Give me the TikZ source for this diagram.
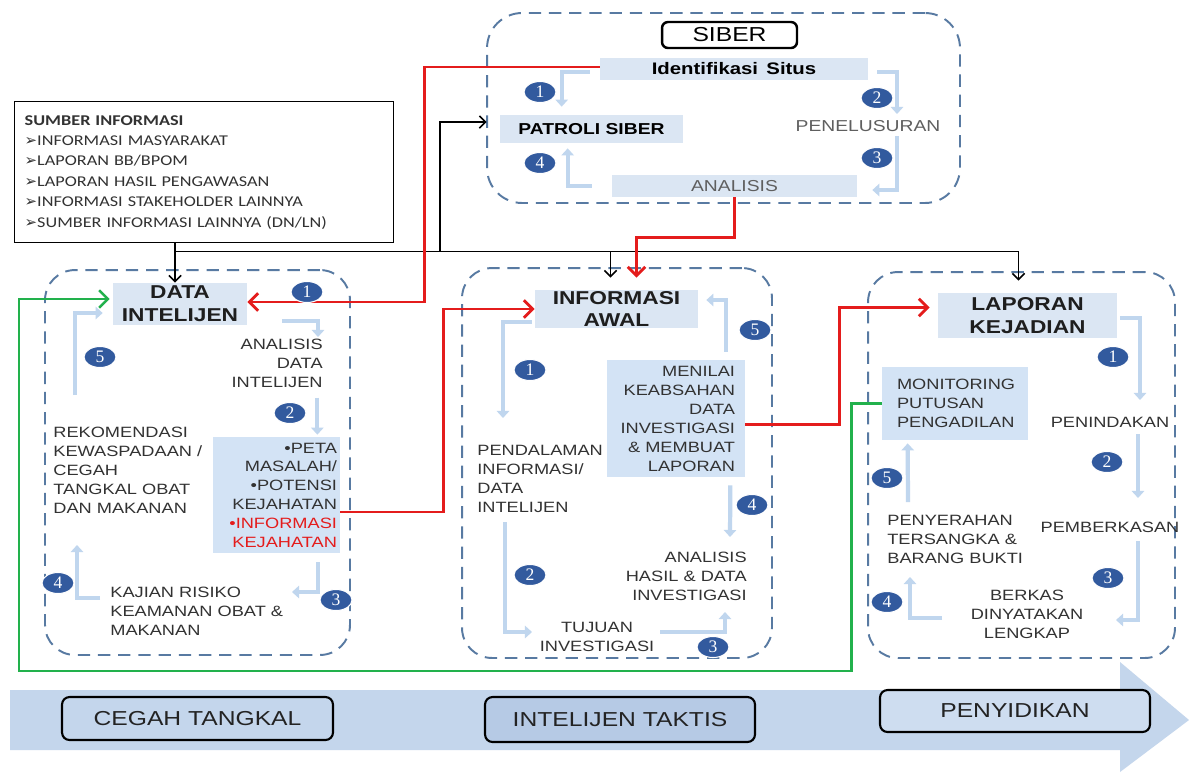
\documentclass[tikz,border=0pt]{standalone}
\usepackage{fontspec}
\setmainfont{Liberation Sans}[FakeStretch=1.22]
\newfontfamily\srcfont{Carlito}[FakeStretch=1.22]
\newfontfamily\symfont{DejaVu Sans}
\newfontfamily\numfont{Liberation Serif}
\usetikzlibrary{arrows.meta,calc,shapes.geometric,positioning}

\definecolor{dashblue}{RGB}{88,122,162}
\definecolor{barfill}{RGB}{219,230,243}
\definecolor{boxfill}{RGB}{211,227,245}
\definecolor{flowblue}{RGB}{192,214,238}
\definecolor{badgeblue}{RGB}{50,90,158}
\definecolor{ink}{RGB}{50,50,50}
\definecolor{softink}{RGB}{95,95,95}
\definecolor{alertred}{RGB}{228,28,28}
\definecolor{backgreen}{RGB}{34,177,76}
\definecolor{bandblue}{RGB}{196,214,236}
\definecolor{taktisfill}{RGB}{182,202,229}
\definecolor{sidikfill}{RGB}{206,221,240}

\newcommand\pointer{{\symfont\fontsize{8.5}{8.5}\selectfont ➢}}

\begin{document}
\begin{tikzpicture}[x=0.02cm, y=-0.02cm,
  phase/.style={draw=dashblue, line width=1.1pt, dash pattern=on 7pt off 4.5pt, rounded corners=0.6cm},
  bar/.style={fill=barfill, inner sep=0pt, align=center, text=black},
  headbar/.style={bar, font=\bfseries\fontsize{10.6}{13}\selectfont, text={rgb,255:red,30;green,30;blue,30}},
  txt/.style={inner sep=0pt, text=ink, font=\fontsize{8.5}{10.8}\selectfont},
  badge/.style={ellipse, fill=badgeblue, draw=white, line width=0.6pt, minimum width=0.64cm, minimum height=0.42cm, inner sep=0pt, text=white, font=\numfont\fontsize{10}{10}\selectfont},
  flow/.style={draw=flowblue, line width=2.4pt, -{Triangle[length=4pt,width=7pt]}},
  feed/.style={draw=black, line width=0.9pt, -{Straight Barb[length=3.5pt,width=7pt]}},
  redlink/.style={draw=alertred, line width=1.6pt, -{Straight Barb[length=5pt,width=10pt]}},
  greenback/.style={draw=backgreen, line width=1.4pt, -{Straight Barb[length=5pt,width=10pt]}},
  stage/.style={draw=black, line width=1.2pt, rounded corners=0.15cm, inner sep=0pt, font=\fontsize{11.5}{12}\selectfont, text={rgb,255:red,35;green,35;blue,35}}]

\useasboundingbox (0,0) rectangle (1189,772);
\fill[white] (0,0) rectangle (1189,772);

% Bottom band
\fill[bandblue] (10,690) -- (1120,690) -- (1120,662) -- (1189,720) -- (1120,772) -- (1120,750) -- (10,750) -- cycle;
\node[stage, fill=bandblue, minimum width=5.42cm, minimum height=0.86cm] (cegah) at (197.5,718.5) {CEGAH TANGKAL};
\node[stage, fill=taktisfill, minimum width=5.4cm, minimum height=0.9cm] (taktis) at (620,719.5) {INTELIJEN TAKTIS};
\node[stage, fill=sidikfill, minimum width=5.4cm, minimum height=0.84cm] (sidik) at (1015,711) {PENYIDIKAN};

% Phase frames
\node[phase, rounded corners=0.7cm, minimum width=9.46cm, minimum height=3.8cm] (sbox) at (723.5,108) {};
\node[phase, minimum width=6.1cm, minimum height=7.7cm] (lbox) at (197.5,462.5) {};
\node[phase, minimum width=6.2cm, minimum height=7.8cm] (mbox) at (617,463) {};
\node[phase, minimum width=6.14cm, minimum height=7.72cm] (rbox) at (1021.5,465) {};

% Sources
\node[draw=black, line width=0.8pt, anchor=north west, minimum width=7.58cm, minimum height=2.82cm,
  text width=7.18cm, inner xsep=0.2cm, align=left, text=ink,
  font=\srcfont\fontsize{8.5}{11.6}\selectfont] (src) at (14,101)
  {\textbf{SUMBER INFORMASI}\\
   \pointer INFORMASI MASYARAKAT\\
   \pointer LAPORAN BB/BPOM\\
   \pointer LAPORAN HASIL PENGAWASAN\\
   \pointer INFORMASI STAKEHOLDER LAINNYA\\
   \pointer SUMBER INFORMASI LAINNYA (DN/LN)};

% Siber
\node[draw=black, line width=1.4pt, rounded corners=0.12cm, fill=white, minimum width=2.7cm, minimum height=0.52cm, inner sep=0pt, font=\fontsize{11.5}{11.5}\selectfont] (stitle) at (729.5,35) {SIBER};
\node[bar, minimum width=5.36cm, minimum height=0.44cm, font=\bfseries\fontsize{9.5}{10}\selectfont] (idf) at (734,69) {Identifikasi\hspace{0.5em}Situs};
\node[bar, minimum width=3.66cm, minimum height=0.56cm, font=\bfseries\fontsize{9}{10}\selectfont] (pat) at (591.5,129) {PATROLI SIBER};
\node[txt, text=softink, font=\fontsize{9}{10}\selectfont] (pnl) at (868,126) {PENELUSURAN};
\node[bar, minimum width=4.9cm, minimum height=0.44cm, text=softink, font=\fontsize{9}{10}\selectfont] (ans) at (734.5,186) {ANALISIS};

% Cegah tangkal
\node[headbar, minimum width=2.68cm, minimum height=0.84cm] (di) at (180,304) {DATA\\INTELIJEN};
\node[txt, anchor=north east, align=right] (ana) at (323,339) {ANALISIS\\DATA\\INTELIJEN};
\node[bar, fill=boxfill, minimum width=2.54cm, minimum height=2.32cm, text width=2.42cm, inner xsep=0.06cm,
  align=right, text=ink, font=\fontsize{8.5}{10.7}\selectfont] (peta) at (276.5,495)
  {•PETA\\MASALAH/\\•POTENSI\\KEJAHATAN\\{\color{alertred}•INFORMASI}\\{\color{alertred}KEJAHATAN}};
\node[txt, anchor=north west, align=left] (kaj) at (110,587) {KAJIAN RISIKO\\KEAMANAN OBAT \&\\MAKANAN};
\node[txt, anchor=north west, align=left] (rek) at (53,427) {REKOMENDASI\\KEWASPADAAN /\\CEGAH\\TANGKAL OBAT\\DAN MAKANAN};

% Intelijen taktis
\node[headbar, minimum width=3.26cm, minimum height=0.76cm] (ia) at (616.5,309) {INFORMASI\\AWAL};
\node[bar, fill=boxfill, minimum width=2.76cm, minimum height=2.34cm, text width=2.36cm, inner xsep=0.2cm,
  align=right, text=ink, font=\fontsize{8.5}{10.8}\selectfont] (menilai) at (676,418.5)
  {MENILAI\\KEABSAHAN\\DATA\\INVESTIGASI\\\& MEMBUAT\\LAPORAN};
\node[txt, anchor=north west, align=left] (pend) at (477,445) {PENDALAMAN\\INFORMASI/\\DATA\\INTELIJEN};
\node[txt, align=center] (tuj) at (597,637) {TUJUAN\\INVESTIGASI};
\node[txt, anchor=north east, align=right] (ahd) at (747,552) {ANALISIS\\HASIL \& DATA\\INVESTIGASI};

% Penyidikan
\node[headbar, minimum width=3.58cm, minimum height=0.9cm] (lk) at (1027.5,315.5) {LAPORAN\\KEJADIAN};
\node[bar, fill=boxfill, minimum width=2.92cm, minimum height=1.46cm, text width=2.32cm, inner xsep=0.3cm,
  align=left, text=ink, font=\fontsize{8.5}{10.8}\selectfont] (mon) at (955,403.5) {MONITORING\\PUTUSAN\\PENGADILAN};
\node[txt] (pen) at (1110,422) {PENINDAKAN};
\node[txt] (pem) at (1110,527) {PEMBERKASAN};
\node[txt, align=center] (ber) at (1027,614) {BERKAS\\DINYATAKAN\\LENGKAP};
\node[txt, anchor=north west, align=left] (peny) at (887,515) {PENYERAHAN\\TERSANGKA \&\\BARANG BUKTI};

% Cycle arrows, siber
\draw[flow] ($(idf.west)+(-10,3)$) -| ($(pat.north west)+(62,-8)$);
\draw[flow] ($(idf.east)+(9,3)$) -| ($(pnl.center)+(29,-12)$);
\draw[flow] ($(pnl.center)+(29,10)$) |- ($(ans.east)+(15,4)$);
\draw[flow] ($(ans.west)+(-20,0)$) -| ($(pat.south west)+(68,5)$);

% Cycle arrows, cegah tangkal
\draw[flow] ($(di.south east)+(35,-4)$) -| ($(ana.north east)+(-5,-2)$);
\draw[flow] ($(peta.north east)+(-23,-39)$) -- ($(peta.north east)+(-23,-2)$);
\draw[flow] ($(peta.south east)+(-22,9)$) |- ($(kaj.north west)+(182,5)$);
\draw[flow] ($(kaj.north west)+(-10,11)$) -| ($(rek.north west)+(24,118)$);
\draw[flow] ($(rek.north west)+(22,-32)$) |- ($(di.west)+(-10,9)$);

% Cycle arrows, intelijen taktis
\draw[flow] ($(ia.south west)+(-3,-6)$) -| ($(pend.north west)+(26,-27)$);
\draw[flow] ($(pend.north west)+(28,77)$) |- ($(tuj.center)+(-65,-5)$);
\draw[flow] ($(tuj.center)+(63,-5)$) -| ($(ahd.north east)+(-22,60)$);
\draw[flow] ($(menilai.south east)+(-15,8)$) -- ($(ahd.north east)+(-17,-15)$);
\draw[flow] ($(menilai.north east)+(-19,-8)$) |- ($(ia.east)+(8,-9)$);

% Cycle arrows, penyidikan
\draw[flow] ($(lk.east)+(3,2.5)$) -| ($(pen.center)+(30,-22)$);
\draw[flow] ($(pen.center)+(28,12)$) -- ($(pem.center)+(28,-29)$);
\draw[flow] ($(pem.center)+(28,14)$) |- ($(ber.center)+(89,6)$);
\draw[flow] ($(ber.center)+(-85,4)$) -| ($(peny.north west)+(23,62)$);
\draw[flow] ($(peny.north west)+(21,-13)$) -- ($(mon.south west)+(26,3)$);

% Source feeds
\coordinate (bus) at ($(src.south west)+(161,8)$);
\draw[feed] (src.south -| bus) -- (bus |- di.north);
\draw[feed] (bus) -| ($(ia.north)+(-6,-12)$);
\draw[feed] (bus) -| ($(lk.north)+(-9,-12)$);
\draw[feed] ($(bus)+(265,0)$) |- ($(pat.west)+(-13,-7)$);

% Hand-over links
\draw[redlink] ($(idf.west)+(0,-2)$) -- ++(-175,0) |- ($(di.east)+(0,-2)$);
\draw[redlink] (ans.south) -- ++(0,40) -| ($(ia.north)+(20,-12)$);
\draw[redlink] ($(peta.east)+(0,17)$) -- ++(103,0) |- (ia.west);
\draw[redlink] ($(menilai.east)+(0,6)$) -- ++(94,0) |- ($(lk.west)+(-8,-8)$);
\draw[greenback] (mon.west) -- ++(-30,0) |- ($(lbox.south west)+(-25,15)$) |- ($(di.west)+(-3,-5)$);

% Step badges
\node[badge] (s1) at (540,92) {1};
\node[badge] (s2) at (877,98) {2};
\node[badge] (s3) at (877,158) {3};
\node[badge] (s4) at (540,163) {4};
\node[badge] (l1) at (307,292) {1};
\node[badge] (l2) at (290,413) {2};
\node[badge] (l3) at (336,600) {3};
\node[badge] (l4) at (58,583) {4};
\node[badge] (l5) at (100,357) {5};
\node[badge] (m1) at (530,370) {1};
\node[badge] (m2) at (530,575) {2};
\node[badge] (m3) at (713,647) {3};
\node[badge] (m4) at (752,505) {4};
\node[badge] (m5) at (755,330) {5};
\node[badge] (r1) at (1113,357) {1};
\node[badge] (r2) at (1107,462) {2};
\node[badge] (r3) at (1108,578) {3};
\node[badge] (r4) at (887,602) {4};
\node[badge] (r5) at (887,478) {5};

\end{tikzpicture}
\end{document}
